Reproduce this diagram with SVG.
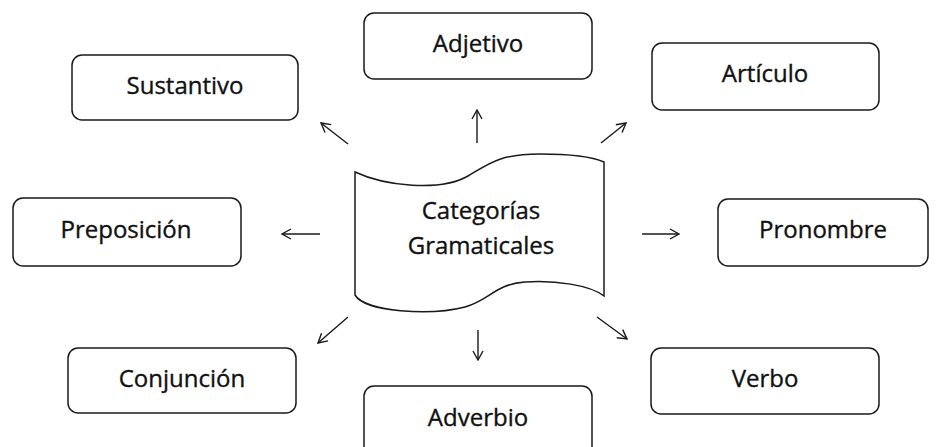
<svg xmlns="http://www.w3.org/2000/svg" width="936" height="447" viewBox="0 0 936 447">
<style>
.box{fill:#fff;stroke:#1a1a1a;stroke-width:1.5}
.lbl{font-family:"Open Sans","Noto Sans","Liberation Sans",sans-serif;font-size:24px;fill:#111;stroke:#111;stroke-width:0.35;text-anchor:middle;font-variant-ligatures:none}
.con{fill:none;stroke:#1a1a1a;stroke-width:1.4}
</style>
<defs>
<marker id="ah" viewBox="0 0 12 12" refX="11" refY="6" markerWidth="12" markerHeight="12" markerUnits="userSpaceOnUse" orient="auto">
<path d="M2,1 L11,6 L2,11" fill="none" stroke="#1a1a1a" stroke-width="1.4"/>
</marker>
</defs>
<rect width="936" height="447" fill="#fff"/>
<g id="center">
<path class="box" d="M355,172 C385,186 440,192 468,176 C490,163 500,154 540,154 C575,154 595,158 604,162 L604,296 C590,285 555,280 525,282 C495,284 490,300 465,307 C430,316 365,312 355,295 Z"/>
<text class="lbl" x="481" y="219">Categorías</text>
<text class="lbl" x="481" y="254">Gramaticales</text>
</g>
<g id="sustantivo"><rect class="box" x="72" y="55" width="226" height="65" rx="10"/><text class="lbl" x="185" y="94">Sustantivo</text></g>
<g id="adjetivo"><rect class="box" x="364" y="13" width="228" height="66" rx="10"/><text class="lbl" x="478" y="52">Adjetivo</text></g>
<g id="articulo"><rect class="box" x="652" y="43" width="227" height="67" rx="10"/><text class="lbl" x="765" y="82">Artículo</text></g>
<g id="preposicion"><rect class="box" x="13" y="198" width="228" height="68" rx="10"/><text class="lbl" x="126" y="238">Preposición</text></g>
<g id="pronombre"><rect class="box" x="718" y="199" width="210" height="67" rx="10"/><text class="lbl" x="823" y="238">Pronombre</text></g>
<g id="conjuncion"><rect class="box" x="68" y="348" width="228" height="65" rx="10"/><text class="lbl" x="182" y="387">Conjunción</text></g>
<g id="verbo"><rect class="box" x="651" y="348" width="228" height="66" rx="10"/><text class="lbl" x="765" y="387">Verbo</text></g>
<g id="adverbio"><rect class="box" x="364" y="386" width="228" height="75" rx="10"/><text class="lbl" x="478" y="426">Adverbio</text></g>
<g id="connectors">
<line class="con" x1="348" y1="144" x2="321" y2="123" marker-end="url(#ah)"/>
<line class="con" x1="477" y1="143" x2="477" y2="110" marker-end="url(#ah)"/>
<line class="con" x1="601" y1="143" x2="626" y2="123" marker-end="url(#ah)"/>
<line class="con" x1="320" y1="234" x2="282" y2="234" marker-end="url(#ah)"/>
<line class="con" x1="642" y1="234" x2="679" y2="234" marker-end="url(#ah)"/>
<line class="con" x1="348" y1="317" x2="318" y2="343" marker-end="url(#ah)"/>
<line class="con" x1="478" y1="330" x2="478" y2="360" marker-end="url(#ah)"/>
<line class="con" x1="597" y1="317" x2="627" y2="339" marker-end="url(#ah)"/>
</g>
</svg>
